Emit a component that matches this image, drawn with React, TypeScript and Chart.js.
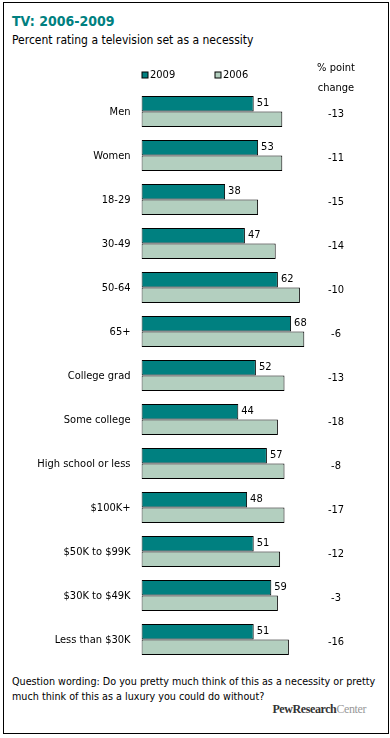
import React, { useEffect, useRef } from "react";
import { Chart, registerables } from "chart.js";

Chart.register(...registerables);

const categories = [
  "Men",
  "Women",
  "18-29",
  "30-49",
  "50-64",
  "65+",
  "College grad",
  "Some college",
  "High school or less",
  "$100K+",
  "$50K to $99K",
  "$30K to $49K",
  "Less than $30K",
];
const values2009 = [51, 53, 38, 47, 62, 68, 52, 44, 57, 48, 51, 59, 51];
const values2006 = [64, 64, 53, 61, 72, 74, 65, 62, 65, 65, 63, 62, 67];
const pointChange = ["-13", "-11", "-15", "-14", "-10", "-6", "-13", "-18", "-8", "-17", "-12", "-3", "-16"];
const seriesLabels = ["2009", "2006"];

const TEAL = "#008080";
const LIGHT = "#B3CFBF";
const FONT_FAMILY = '"DejaVu Sans Condensed", "DejaVu Sans", sans-serif';
const CANVAS_TOP = 55;

const overlayPlugin = {
  id: "overlay",
  afterDatasetsDraw(chart: any) {
    const ctx = chart.ctx;
    const meta0 = chart.getDatasetMeta(0);
    const meta1 = chart.getDatasetMeta(1);
    const yScale = chart.scales.y;
    const left = chart.chartArea.left;
    ctx.save();
    ctx.font = `11px ${FONT_FAMILY}`;
    ctx.fillStyle = "#000";
    ctx.textBaseline = "middle";
    categories.forEach((cat, i) => {
      const yc = yScale.getPixelForTick(i);
      ctx.textAlign = "right";
      ctx.fillText(cat, left - 11, yc + 1);
      ctx.textAlign = "center";
      ctx.fillText(pointChange[i], 336, yc + 3);
    });
    meta0.data.forEach((bar: any, i: number) => {
      ctx.textAlign = "left";
      ctx.fillText(String(values2009[i]), bar.x + 3, bar.y - 1);
    });
    // legend
    const ly = 75 - CANVAS_TOP;
    const items = [
      { x: left + 0.5, color: TEAL, label: seriesLabels[0] },
      { x: left + 73.5, color: LIGHT, label: seriesLabels[1] },
    ];
    items.forEach((it) => {
      ctx.fillStyle = it.color;
      ctx.fillRect(it.x, ly - 3, 6, 6);
      ctx.strokeStyle = "#000";
      ctx.lineWidth = 1;
      ctx.strokeRect(it.x, ly - 3, 6, 6);
      ctx.fillStyle = "#000";
      ctx.textAlign = "left";
      ctx.fillText(it.label, it.x + 8, ly);
    });
    ctx.textAlign = "center";
    ctx.fillText("% point", 336, 68 - CANVAS_TOP);
    ctx.fillText("change", 336, 88 - CANVAS_TOP);
    ctx.restore();
  },
};

function BarChart() {
  const ref = useRef<HTMLCanvasElement | null>(null);
  useEffect(() => {
    if (!ref.current) return;
    const chart = new Chart(ref.current, {
      type: "bar",
      data: {
        labels: categories,
        datasets: [
          {
            label: seriesLabels[0],
            data: values2009,
            backgroundColor: TEAL,
            borderColor: "#000",
            borderWidth: 1,
            borderSkipped: false,
            categoryPercentage: 0.705,
            barPercentage: 1,
          },
          {
            label: seriesLabels[1],
            data: values2006,
            backgroundColor: LIGHT,
            borderColor: "#000",
            borderWidth: 1,
            borderSkipped: false,
            categoryPercentage: 0.705,
            barPercentage: 1,
          },
        ],
      },
      options: {
        indexAxis: "y",
        animation: false,
        responsive: false,
        maintainAspectRatio: false,
        events: [],
        layout: { padding: { top: 34.5, bottom: 8.5, left: 141.5, right: 28.5 } },
        plugins: {
          legend: { display: false },
          tooltip: { enabled: false },
          title: { display: false },
        },
        scales: {
          x: { display: false, min: 0, max: 100 },
          y: { display: false },
        },
      },
      plugins: [overlayPlugin],
    });
    return () => chart.destroy();
  }, []);
  return (
    <canvas
      ref={ref}
      width={390}
      height={615}
      style={{ position: "absolute", left: 0, top: CANVAS_TOP, width: 390, height: 615 }}
    />
  );
}

export default function App() {
  useEffect(() => {
    document.body.style.margin = "0";
  }, []);
  return (
    <div style={{ position: "relative", width: 390, height: 738, background: "#fff", fontFamily: FONT_FAMILY, color: "#000" }}>
      <div
        style={{
          position: "absolute",
          left: 3,
          top: 2,
          width: 386,
          height: 732,
          border: "1px solid #000",
          boxSizing: "border-box",
        }}
      />
      <div style={{ position: "absolute", left: 12, top: 14, fontSize: 14, lineHeight: "14px", fontWeight: "bold", color: TEAL }}>
        TV: 2006-2009
      </div>
      <div style={{ position: "absolute", left: 12, top: 34, fontSize: 12, lineHeight: "12px" }}>
        Percent rating a television set as a necessity
      </div>
      <BarChart />
      <div style={{ position: "absolute", left: 12, top: 674, fontSize: 10.7, lineHeight: "15px", whiteSpace: "nowrap" }}>
        Question wording: Do you pretty much think of this as a necessity or pretty
        <br />
        much think of this as a luxury you could do without?
      </div>
      <div
        style={{
          position: "absolute",
          right: 24,
          top: 703,
          fontSize: 12,
          lineHeight: "12px",
          fontFamily: '"Liberation Serif", "DejaVu Serif", serif',
          letterSpacing: "-0.4px",
          whiteSpace: "nowrap",
        }}
      >
        <span style={{ color: "#333", fontWeight: "bold" }}>PewResearch</span>
        <span style={{ color: "#999" }}>Center</span>
      </div>
    </div>
  );
}
